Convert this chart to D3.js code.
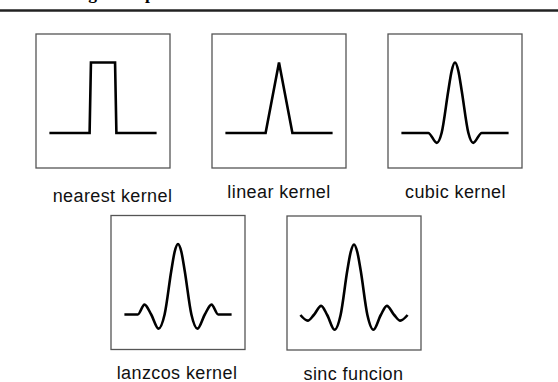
<!DOCTYPE html>
<html>
<head>
<meta charset="utf-8">
<script src="https://cdn.jsdelivr.net/npm/d3@7"></script>
<style>
  body { margin: 0; background: #fff; }
  svg { display: block; }
</style>
</head>
<body>
<div id="chart"></div>
<script>
// Ytimien nimet (kuvatekstit sellaisenaan)
var kernelNames = ["nearest kernel", "linear kernel", "cubic kernel", "lanzcos kernel", "sinc funcion"];

// Arvot luettu kuvasta: x = etaisyys naytteesta, y = painokerroin
var nearestX = [-4, -1, -0.9, 0.9, 1, 4];
var nearestY = [0, 0, 1, 1, 0, 0];

var linearX = [-4, -1, 0, 1, 4];
var linearY = [0, 0, 1, 0, 0];

var cubicX = [-4, -2, -1.35, -1, -0.5, -0.25, 0, 0.25, 0.5, 1, 1.35, 2, 4];
var cubicY = [0, 0, -0.14, 0, 0.6, 0.88, 1, 0.88, 0.6, 0, -0.14, 0, 0];

var lanczosX = [-4, -3, -2.5, -2, -1.45, -1, -0.5, -0.25, 0, 0.25, 0.5, 1, 1.45, 2, 2.5, 3, 4];
var lanczosY = [0, 0, 0.14, 0, -0.2, 0, 0.62, 0.89, 1, 0.89, 0.62, 0, -0.2, 0, 0.14, 0, 0];

var sincX = [-4, -3.45, -3, -2.45, -2, -1.45, -1, -0.5, -0.25, 0, 0.25, 0.5, 1, 1.45, 2, 2.45, 3, 3.45, 4];
var sincY = [0, -0.08, 0, 0.13, 0, -0.21, 0, 0.63, 0.89, 1, 0.89, 0.63, 0, -0.21, 0, 0.13, 0, -0.08, 0];

var kernelX = [nearestX, linearX, cubicX, lanczosX, sincX];
var kernelY = [nearestY, linearY, cubicY, lanczosY, sincY];
var kernelCurves = [d3.curveLinear, d3.curveLinear, d3.curveMonotoneX, d3.curveMonotoneX, d3.curveMonotoneX];

// Ruutujen sijainnit kuvassa (ei dataa)
var panelLayout = [
  {x: 36,  y: 34,    labelDx: 9.5,  labelDy: 167.5},
  {x: 212, y: 34,    labelDx: 0,    labelDy: 164.3},
  {x: 388, y: 34,    labelDx: 0.5,  labelDy: 164.3},
  {x: 111, y: 215.5, labelDx: -1,   labelDy: 163.5},
  {x: 287, y: 216,   labelDx: -0.5, labelDy: 164}
];

var width = 558;
var height = 382;

/*
 * Yksittainen ruutu: kehys, ytimen kayra ja nimi.
 */
function KernelPanel() {

  var size = 134;         // ruudun sivun pituus
  var xValues = [];
  var yValues = [];
  var curve = d3.curveLinear;
  var label = "";
  var labelDx = 0;
  var labelDy = 165;

  function chart(selection) {
    selection.each(function() {

      var g = d3.select(this);

      var x = d3.scaleLinear().domain([-4, 4]).range([13.4, size - 13.4]);
      var y = d3.scaleLinear().domain([0, 1]).range([99, 28.5]);

      g.append("rect")
        .attr("x", 0)
        .attr("y", 0)
        .attr("width", size)
        .attr("height", size)
        .attr("fill", "none")
        .attr("stroke", "#555")
        .attr("stroke-width", 1.3);

      var line = d3.line()
        .x(function(d) { return x(d[0]); })
        .y(function(d) { return y(d[1]); })
        .curve(curve);

      g.append("path")
        .datum(d3.zip(xValues, yValues))
        .attr("d", line)
        .attr("fill", "none")
        .attr("stroke", "#000")
        .attr("stroke-width", 2.6)
        .attr("stroke-linejoin", "miter");

      g.append("text")
        .attr("x", size / 2 + labelDx)
        .attr("y", labelDy)
        .attr("text-anchor", "middle")
        .attr("font-family", "'Liberation Sans', Arial, Helvetica, sans-serif")
        .attr("font-size", 18)
        .attr("letter-spacing", 0.4)
        .attr("fill", "#111")
        .text(label);
    });
  }

  chart.values = function(xs, ys) {
    if (!arguments.length) return [xValues, yValues];
    xValues = xs;
    yValues = ys;
    return chart;
  };

  chart.curve = function(value) {
    if (!arguments.length) return curve;
    curve = value;
    return chart;
  };

  chart.label = function(value, dx, dy) {
    if (!arguments.length) return label;
    label = value;
    labelDx = dx;
    labelDy = dy;
    return chart;
  };

  return chart;
}

var svg = d3.select("#chart").append("svg")
  .attr("width", width)
  .attr("height", height);

// Ylareunaan jaanyt otsikon alaosa ja vaakaviiva
svg.append("text")
  .attr("x", 58)
  .attr("y", -0.8)
  .attr("font-family", "'Liberation Serif', 'Times New Roman', serif")
  .attr("font-weight", "bold")
  .attr("font-size", 17.5)
  .attr("fill", "#000")
  .text("Image interpolation");

svg.append("line")
  .attr("x1", 0)
  .attr("x2", width)
  .attr("y1", 10.5)
  .attr("y2", 10.5)
  .attr("stroke", "#222")
  .attr("stroke-width", 2.5);

kernelNames.forEach(function(name, i) {
  var p = panelLayout[i];
  var panel = KernelPanel()
    .values(kernelX[i], kernelY[i])
    .curve(kernelCurves[i])
    .label(name, p.labelDx, p.labelDy);

  svg.append("g")
    .attr("class", "kernel")
    .attr("transform", "translate(" + p.x + "," + p.y + ")")
    .call(panel);
});
</script>
</body>
</html>
